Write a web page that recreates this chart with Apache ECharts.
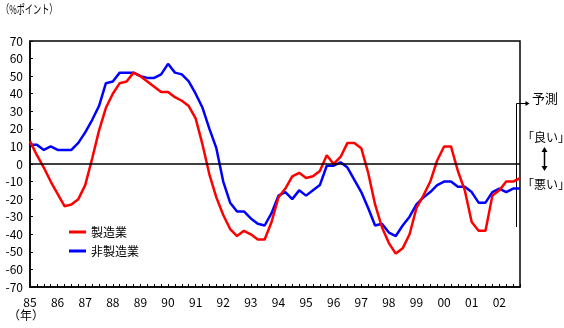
<!DOCTYPE html>
<html>
<head>
<meta charset="utf-8">
<script src="https://cdn.jsdelivr.net/npm/echarts@6/dist/echarts.min.js"></script>
<style>
  html, body { margin: 0; padding: 0; background: #fff; }
  #chart { width: 564px; height: 328px; }
</style>
</head>
<body>
<div id="chart"></div>
<script>
// Business conditions DI (quarterly, 1985 Q1 - 2002 Q4; last point is forecast)
const years = ['85','86','87','88','89','90','91','92','93','94','95','96','97','98','99','00','01','02'];
const quarters = ['Q1','Q2','Q3','Q4'];

const manufacturing = [
  13, 5, -2, -10, -17, -24, -23, -20, -12, 3, 19, 32, 40, 46, 47, 52, 50, 47, 44, 41, 41, 38, 36, 33,
  26, 11, -6, -19, -29, -37, -41, -38, -40, -43, -43, -33, -19, -14, -7, -5, -8, -7, -4, 5, 0, 4, 12, 12,
  9, -5, -23, -36, -45, -51, -48, -40, -25, -18, -10, 2, 10, 10, -4, -15, -33, -38, -38, -18, -15, -10, -10, -8
];
const nonManufacturing = [
  11, 11, 8, 10, 8, 8, 8, 12, 18, 25, 33, 46, 47, 52, 52, 52, 50, 49, 49, 51, 57, 52, 51, 47,
  40, 32, 20, 9, -10, -22, -27, -27, -31, -34, -35, -28, -18, -16, -20, -15, -18, -15, -12, -1, -1, 1, -2, -9,
  -16, -25, -35, -34, -39, -41, -35, -30, -23, -19, -16, -12, -10, -10, -13, -13, -16, -22, -22, -16, -14, -16, -14, -14
];

const seriesNames = ['製造業', '非製造業'];
const yTitle = '（%ポイント）';
const xTitle = '（年）';
const forecastLabel = '予測';
const goodLabel = '「良い」';
const badLabel = '「悪い」';

const categories = [];
years.forEach(y => quarters.forEach(q => categories.push(y + q)));

const FONT = '"Noto Sans CJK JP", "DejaVu Sans", sans-serif';
const chart = echarts.init(document.getElementById('chart'), null, { renderer: 'canvas' });

const option = {
  animation: false,
  backgroundColor: '#fff',
  textStyle: { fontFamily: FONT, color: '#000' },
  grid: {
    left: 30, right: 44, top: 41, bottom: 41,
    show: true, borderColor: '#000', borderWidth: 1.5, backgroundColor: 'transparent'
  },
  legend: {
    orient: 'vertical',
    left: 64, top: 221,
    itemGap: 7,
    itemWidth: 17, itemHeight: 3,
    icon: 'rect',
    textStyle: { fontSize: 12, color: '#000', fontFamily: FONT },
    data: seriesNames
  },
  xAxis: {
    type: 'category',
    data: categories,
    boundaryGap: false,
    axisLine: { onZero: false, lineStyle: { color: '#000', width: 1.5 } },
    axisTick: { show: true, inside: true, length: 3, interval: 0, lineStyle: { color: '#000' } },
    axisLabel: {
      interval: 3,
      margin: 9,
      fontSize: 12,
      color: '#000',
      fontFamily: FONT,
      formatter: v => v.slice(0, 2)
    },
    splitLine: { show: false }
  },
  yAxis: {
    type: 'value',
    min: -70, max: 70, interval: 10,
    axisLine: { show: true, lineStyle: { color: '#000', width: 1.5 } },
    axisTick: { show: true, inside: true, length: 3, lineStyle: { color: '#000' } },
    axisLabel: { margin: 7, fontSize: 12, color: '#000', fontFamily: FONT },
    splitLine: { show: false }
  },
  series: [
    {
      name: seriesNames[0],
      type: 'line',
      data: manufacturing,
      symbol: 'none',
      lineStyle: { color: '#ff0000', width: 2.5 },
      itemStyle: { color: '#ff0000' },
      z: 3,
      markLine: {
        silent: true,
        symbol: 'none',
        label: { show: false },
        lineStyle: { color: '#000', width: 1.5, type: 'solid' },
        data: [{ yAxis: 0 }]
      }
    },
    {
      name: seriesNames[1],
      type: 'line',
      data: nonManufacturing,
      symbol: 'none',
      lineStyle: { color: '#0000ff', width: 2.5 },
      itemStyle: { color: '#0000ff' },
      z: 2
    }
  ]
};
chart.setOption(option);

// Annotations: forecast bracket, good/bad labels, axis titles
const last = categories.length - 1;
const pA = chart.convertToPixel({ xAxisIndex: 0, yAxisIndex: 0 }, [last - 1, 35]);
const pB = chart.convertToPixel({ xAxisIndex: 0, yAxisIndex: 0 }, [last, -36]);
const fx = Math.round(pA[0] + (pB[0] - pA[0]) * 0.4) + 0.5;
const fTop = Math.round(pA[1]) + 0.5;
const fBot = Math.round(pB[1]);

chart.setOption({
  graphic: [
    { type: 'text', x: 1, y: 3, scaleX: 0.68, style: { text: yTitle, font: '12px ' + FONT, fill: '#000' } },
    { type: 'text', left: 8, top: 309, style: { text: xTitle, font: '12px ' + FONT, fill: '#000' } },
    { type: 'polyline', shape: { points: [[fx, fBot], [fx, fTop], [fx + 11, fTop]] },
      style: { stroke: '#000', lineWidth: 1, fill: null } },
    { type: 'polygon', shape: { points: [[fx + 13, fTop], [fx + 9, fTop - 2.5], [fx + 9, fTop + 2.5]] },
      style: { fill: '#000' } },
    { type: 'text', left: 532, top: fTop - 12, style: { text: forecastLabel, font: '13px ' + FONT, fill: '#000' } },
    { type: 'text', left: 522, top: 131, style: { text: goodLabel, font: '12px ' + FONT, fill: '#000' } },
    { type: 'line', shape: { x1: 544.5, y1: 150, x2: 544.5, y2: 168 }, style: { stroke: '#000', lineWidth: 1.5 } },
    { type: 'polygon', shape: { points: [[544.5, 147], [541.5, 152], [547.5, 152]] }, style: { fill: '#000' } },
    { type: 'polygon', shape: { points: [[544.5, 171], [541.5, 166], [547.5, 166]] }, style: { fill: '#000' } },
    { type: 'text', left: 522, top: 178, style: { text: badLabel, font: '12px ' + FONT, fill: '#000' } }
  ]
});
</script>
</body>
</html>
